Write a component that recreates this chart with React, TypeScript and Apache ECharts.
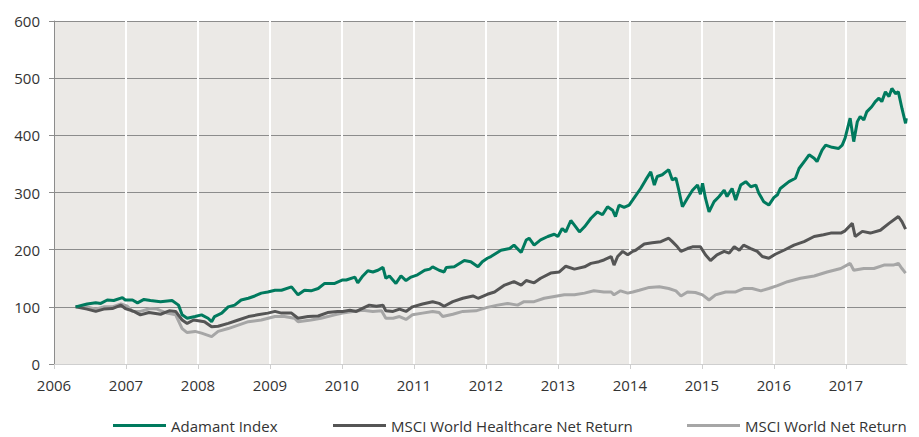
import React, { useEffect, useRef } from "react";
import * as echarts from "echarts";

const seriesNames = ["Adamant Index", "MSCI World Healthcare Net Return", "MSCI World Net Return"];
const seriesColors = ["#007a5e", "#555555", "#a6a6a6"];
const yTicks = [0, 100, 200, 300, 400, 500, 600];

const adamant: [number, number][] = [
  [2006.30, 100], [2006.46, 105], [2006.58, 107], [2006.65, 106], [2006.74, 112], [2006.83, 111],
  [2006.95, 116], [2006.99, 112], [2007.09, 112], [2007.16, 107], [2007.25, 113], [2007.34, 111],
  [2007.48, 109], [2007.64, 111], [2007.73, 103], [2007.78, 86], [2007.85, 80], [2007.96, 83],
  [2008.05, 86], [2008.14, 80], [2008.19, 74], [2008.23, 83], [2008.33, 89], [2008.42, 100],
  [2008.51, 103], [2008.60, 112], [2008.70, 115], [2008.79, 119], [2008.88, 124], [2008.97, 126],
  [2009.07, 129], [2009.16, 129], [2009.30, 135], [2009.39, 121], [2009.48, 129], [2009.57, 128],
  [2009.67, 132], [2009.76, 141], [2009.90, 141], [2010.01, 147], [2010.06, 147], [2010.18, 152],
  [2010.22, 142], [2010.29, 154], [2010.36, 163], [2010.43, 161], [2010.50, 164], [2010.57, 169],
  [2010.61, 150], [2010.66, 154], [2010.75, 141], [2010.82, 154], [2010.89, 146], [2010.96, 152],
  [2011.05, 156], [2011.15, 164], [2011.22, 166], [2011.26, 170], [2011.35, 164], [2011.42, 161],
  [2011.45, 169], [2011.56, 170], [2011.70, 181], [2011.79, 179], [2011.89, 170], [2011.95, 179],
  [2012.02, 185], [2012.07, 188], [2012.21, 199], [2012.33, 202], [2012.39, 208], [2012.49, 195],
  [2012.56, 217], [2012.60, 220], [2012.67, 208], [2012.76, 217], [2012.86, 223], [2012.95, 227],
  [2013.00, 223], [2013.06, 237], [2013.11, 231], [2013.18, 251], [2013.23, 243], [2013.30, 231],
  [2013.37, 240], [2013.46, 255], [2013.55, 266], [2013.62, 261], [2013.69, 275], [2013.76, 269],
  [2013.80, 258], [2013.85, 278], [2013.92, 274], [2013.99, 278], [2014.04, 287], [2014.15, 307],
  [2014.22, 322], [2014.29, 336], [2014.34, 313], [2014.38, 328], [2014.45, 331], [2014.50, 336],
  [2014.54, 340], [2014.59, 322], [2014.64, 325], [2014.68, 304], [2014.73, 275], [2014.80, 290],
  [2014.87, 304], [2014.94, 313], [2014.98, 297], [2015.01, 316], [2015.05, 290], [2015.10, 266],
  [2015.17, 284], [2015.24, 293], [2015.31, 304], [2015.35, 293], [2015.42, 307], [2015.47, 287],
  [2015.54, 313], [2015.61, 319], [2015.68, 310], [2015.75, 313], [2015.79, 299], [2015.86, 284],
  [2015.93, 278], [2016.00, 291], [2016.05, 296], [2016.09, 307], [2016.21, 319], [2016.30, 325],
  [2016.35, 342], [2016.44, 357], [2016.49, 366], [2016.56, 360], [2016.60, 354], [2016.67, 374],
  [2016.72, 383], [2016.81, 379], [2016.90, 377], [2016.95, 383], [2016.99, 395], [2017.06, 430],
  [2017.11, 389], [2017.16, 424], [2017.20, 433], [2017.25, 427], [2017.29, 441], [2017.36, 450],
  [2017.41, 459], [2017.46, 465], [2017.50, 459], [2017.55, 476], [2017.60, 468], [2017.64, 482],
  [2017.69, 473], [2017.73, 476], [2017.78, 447], [2017.83, 421], [2017.84, 430],
];

const healthcare: [number, number][] = [
  [2006.30, 100], [2006.46, 96], [2006.58, 92], [2006.69, 96], [2006.81, 97], [2006.93, 103],
  [2006.99, 97], [2007.11, 92], [2007.20, 86], [2007.32, 90], [2007.48, 87], [2007.60, 93],
  [2007.69, 92], [2007.78, 77], [2007.85, 71], [2007.94, 77], [2008.09, 74], [2008.19, 65],
  [2008.28, 66], [2008.42, 71], [2008.56, 77], [2008.70, 83], [2008.83, 86], [2008.97, 89],
  [2009.07, 92], [2009.16, 89], [2009.30, 89], [2009.39, 80], [2009.53, 83], [2009.67, 84],
  [2009.80, 90], [2009.94, 92], [2010.01, 92], [2010.11, 94], [2010.20, 92], [2010.38, 103],
  [2010.48, 101], [2010.57, 103], [2010.61, 93], [2010.71, 92], [2010.80, 96], [2010.89, 92],
  [2010.98, 100], [2011.12, 105], [2011.26, 109], [2011.35, 106], [2011.42, 101], [2011.54, 109],
  [2011.68, 115], [2011.82, 119], [2011.89, 115], [2012.02, 122], [2012.12, 126], [2012.26, 138],
  [2012.39, 144], [2012.49, 138], [2012.56, 146], [2012.67, 142], [2012.76, 150], [2012.90, 159],
  [2013.02, 161], [2013.11, 171], [2013.23, 166], [2013.37, 170], [2013.46, 176], [2013.57, 179],
  [2013.64, 182], [2013.74, 188], [2013.78, 173], [2013.83, 188], [2013.90, 197], [2013.97, 191],
  [2014.04, 197], [2014.08, 199], [2014.20, 210], [2014.31, 212], [2014.43, 214], [2014.54, 220],
  [2014.59, 214], [2014.66, 205], [2014.71, 197], [2014.80, 202], [2014.87, 205], [2014.98, 205],
  [2015.05, 191], [2015.12, 181], [2015.21, 191], [2015.31, 197], [2015.38, 194], [2015.45, 205],
  [2015.52, 199], [2015.58, 208], [2015.68, 202], [2015.77, 197], [2015.84, 188], [2015.93, 185],
  [2016.02, 192], [2016.14, 199], [2016.28, 208], [2016.42, 214], [2016.56, 223], [2016.69, 226],
  [2016.79, 229], [2016.93, 229], [2016.99, 233], [2017.09, 246], [2017.13, 223], [2017.23, 232],
  [2017.34, 229], [2017.48, 234], [2017.60, 246], [2017.73, 258], [2017.78, 249], [2017.83, 236],
];

const world: [number, number][] = [
  [2006.30, 100], [2006.46, 100], [2006.58, 96], [2006.69, 100], [2006.81, 100], [2006.93, 105],
  [2007.02, 101], [2007.09, 92], [2007.20, 92], [2007.34, 97], [2007.43, 96], [2007.57, 89],
  [2007.69, 86], [2007.78, 62], [2007.85, 55], [2007.96, 57], [2008.05, 54], [2008.19, 48],
  [2008.28, 57], [2008.42, 62], [2008.56, 68], [2008.70, 74], [2008.88, 77], [2009.07, 83],
  [2009.20, 83], [2009.34, 80], [2009.39, 74], [2009.57, 77], [2009.71, 80], [2009.90, 86],
  [2010.01, 89], [2010.15, 92], [2010.29, 94], [2010.43, 92], [2010.55, 93], [2010.61, 80],
  [2010.71, 80], [2010.80, 83], [2010.89, 78], [2010.98, 86], [2011.12, 89], [2011.26, 92],
  [2011.35, 90], [2011.40, 83], [2011.54, 87], [2011.68, 92], [2011.86, 93], [2012.02, 99],
  [2012.16, 103], [2012.30, 106], [2012.44, 103], [2012.53, 109], [2012.67, 109], [2012.81, 115],
  [2012.95, 118], [2013.09, 121], [2013.23, 121], [2013.37, 124], [2013.50, 128], [2013.64, 126],
  [2013.74, 126], [2013.78, 121], [2013.87, 128], [2013.97, 124], [2014.04, 126], [2014.13, 129],
  [2014.27, 134], [2014.41, 135], [2014.54, 132], [2014.64, 128], [2014.71, 119], [2014.80, 126],
  [2014.91, 125], [2015.01, 121], [2015.10, 112], [2015.19, 121], [2015.33, 126], [2015.47, 126],
  [2015.58, 132], [2015.70, 132], [2015.82, 128], [2015.93, 132], [2016.05, 137], [2016.19, 144],
  [2016.37, 150], [2016.56, 154], [2016.74, 161], [2016.93, 167], [2017.06, 176], [2017.11, 164],
  [2017.25, 167], [2017.39, 167], [2017.53, 173], [2017.66, 173], [2017.73, 176], [2017.78, 167],
  [2017.83, 159],
];

const FONT = "'Open Sans', 'Noto Sans', sans-serif";

export default function App() {
  const ref = useRef<HTMLDivElement>(null);
  useEffect(() => {
    if (!ref.current) return;
    const chart = echarts.init(ref.current, undefined, { renderer: "svg" });
    const legendLefts = [113, 333, 687];
    const seriesData = [adamant, healthcare, world];
    chart.setOption({
      animation: false,
      textStyle: { fontFamily: FONT },
      grid: {
        left: 54, right: 12, top: 21, bottom: 73,
        show: true, backgroundColor: "#ebe9e6", borderWidth: 0,
      },
      legend: seriesNames.map((name, i) => ({
        data: [name],
        left: legendLefts[i],
        top: 418,
        padding: 0,
        icon: "rect",
        itemWidth: 53,
        itemHeight: 3,
        itemGap: 6,
        textStyle: { fontSize: 15, color: "#333", fontFamily: FONT, padding: [0, 0, 0, 0] },
        selectedMode: false,
      })),
      xAxis: {
        type: "value",
        min: 2006,
        max: 2017.85,
        interval: 1,
        axisLine: { show: true, lineStyle: { color: "#cfcfcf", width: 1 } },
        axisTick: { show: true, length: 5, lineStyle: { color: "#cfcfcf" } },
        axisLabel: {
          fontSize: 15, color: "#333", margin: 13, fontFamily: FONT,
          formatter: (v: number) => (Number.isInteger(v) ? String(v) : ""),
          showMaxLabel: false,
        },
        splitLine: { show: true, lineStyle: { color: "#ffffff", width: 2 } },
      },
      yAxis: {
        type: "value",
        min: 0,
        max: 600,
        interval: 100,
        axisLine: { show: true, lineStyle: { color: "#8c8c8c", width: 1 } },
        axisTick: { show: true, length: 5, lineStyle: { color: "#8c8c8c" } },
        axisLabel: {
          fontSize: 15, color: "#333", margin: 14, fontFamily: FONT,
          formatter: (v: number) => (yTicks.includes(v) ? String(v) : ""),
        },
        splitLine: { show: true, lineStyle: { color: "#8c8c8c", width: 1 } },
      },
      series: [2, 1, 0].map((i) => ({
        name: seriesNames[i],
        type: "line",
        data: seriesData[i],
        showSymbol: false,
        symbol: "none",
        color: seriesColors[i],
        lineStyle: { color: seriesColors[i], width: 3 },
        z: 10 - i,
      })),
    });
    return () => chart.dispose();
  }, []);
  return <div ref={ref} style={{ width: 919, height: 437, position: "absolute", left: 0, top: 0 }} />;
}
